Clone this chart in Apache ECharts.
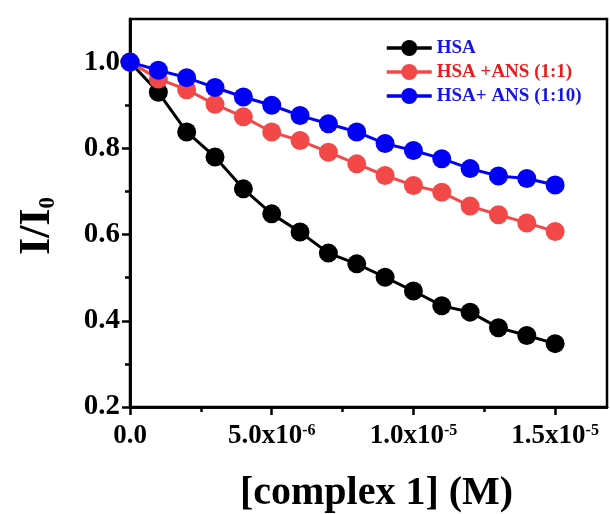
<!DOCTYPE html>
<html><head><meta charset="utf-8">
<script src="https://cdn.jsdelivr.net/npm/echarts@6/dist/echarts.min.js"></script>
<style>html,body{margin:0;padding:0;background:#fff}#c{width:610px;height:514px}</style>
</head><body><div id="c"></div>
<script>
// ---- data ----
const concentrations = [0, 1e-6, 2e-6, 3e-6, 4e-6, 5e-6, 6e-6, 7e-6, 8e-6, 9e-6, 1e-5, 1.1e-5, 1.2e-5, 1.3e-5, 1.4e-5, 1.5e-5];
const hsa       = [1.000, 0.930, 0.838, 0.780, 0.706, 0.648, 0.606, 0.557, 0.532, 0.501, 0.469, 0.435, 0.420, 0.384, 0.366, 0.347];
const hsaAns11  = [1.000, 0.961, 0.936, 0.902, 0.873, 0.838, 0.818, 0.791, 0.764, 0.737, 0.714, 0.698, 0.666, 0.646, 0.627, 0.607];
const hsaAns110 = [1.000, 0.981, 0.964, 0.941, 0.919, 0.900, 0.876, 0.857, 0.838, 0.811, 0.795, 0.776, 0.753, 0.736, 0.730, 0.715];
const seriesNames = ['HSA', 'HSA +ANS (1:1)', 'HSA+ ANS (1:10)'];
const xMajorTicks = [0, 5e-6, 1e-5, 1.5e-5];
const xMinorTicks = [2.5e-6, 7.5e-6, 1.25e-5];
const xTickMantissa = ['0.0', '5.0', '1.0', '1.5'];
const xTickExponent = ['', '-6', '-5', '-5'];
const yMajorTicks = [0.2, 0.4, 0.6, 0.8, 1.0];
const yMinorTicks = [0.3, 0.5, 0.7, 0.9];

// ---- chart ----
const FONT = '"Liberation Serif", "Times New Roman", serif';
const colors = ['#000000', '#f24848', '#0000f5'];
const legendTextColors = ['#1414e6', '#e81c1c', '#1414e6'];
const xMin = 0, xMax = 1.683e-5, yMin = 0.2, yMax = 1.1;

function pair(xs, ys) { return xs.map((x, i) => [x, ys[i]]); }

const chart = echarts.init(document.getElementById('c'), null, {renderer: 'canvas'});
const axisLine = {show: true, lineStyle: {color: '#000', width: 2.5}};
chart.setOption({
  animation: false,
  backgroundColor: '#fff',
  grid: {left: 130, top: 19, right: 3, bottom: 107, show: true, borderColor: '#000', borderWidth: 2.5,
         containLabel: false, outerBoundsMode: 'none'},
  legend: {
    left: 380, top: 33, orient: 'vertical', itemWidth: 45, itemHeight: 20, itemGap: 4,
    lineStyle: {width: 3.5},
    data: seriesNames.map((n, i) => ({name: n, textStyle: {color: legendTextColors[i]}})),
    textStyle: {fontFamily: FONT, fontWeight: 'bold', fontSize: 19, lineHeight: 20}
  },
  xAxis: [{
    type: 'value', min: xMin, max: xMax, position: 'bottom',
    axisLine: axisLine, splitLine: {show: false},
    axisTick: {show: true, inside: false, length: 8, lineStyle: {width: 2.5, color: '#000'}, customValues: xMajorTicks},
    axisLabel: {
      customValues: xMajorTicks, margin: 16, color: '#000',
      formatter: function (v) {
        let idx = 0, best = Infinity;
        xMajorTicks.forEach((t, i) => { const d = Math.abs(t - v); if (d < best) { best = d; idx = i; } });
        if (!xTickExponent[idx]) return '{m|' + xTickMantissa[idx] + '}';
        return '{m|' + xTickMantissa[idx] + 'x10}{s|' + xTickExponent[idx] + '}';
      },
      rich: {
        m: {fontFamily: FONT, fontWeight: 'bold', fontSize: 27, lineHeight: 27, color: '#000'},
        s: {fontFamily: FONT, fontWeight: 'bold', fontSize: 16, lineHeight: 18, verticalAlign: 'top', color: '#000'}
      }
    },
    name: '[complex 1] (M)', nameLocation: 'middle', nameGap: 67,
    nameTextStyle: {fontFamily: FONT, fontWeight: 'bold', fontSize: 40, color: '#000', padding: [0, 0, 0, 16]}
  }, {
    type: 'value', min: xMin, max: xMax, position: 'bottom',
    axisLine: axisLine, splitLine: {show: false}, axisLabel: {show: false},
    axisTick: {show: true, inside: false, length: 5, lineStyle: {width: 2.5, color: '#000'}, customValues: xMinorTicks}
  }],
  yAxis: [{
    type: 'value', min: yMin, max: yMax, position: 'left',
    axisLine: axisLine, splitLine: {show: false},
    axisTick: {show: true, inside: false, length: 8, lineStyle: {width: 2.5, color: '#000'}, customValues: yMajorTicks},
    axisLabel: {
      customValues: yMajorTicks, margin: 10, color: '#000',
      fontFamily: FONT, fontWeight: 'bold', fontSize: 29,
      formatter: v => v.toFixed(1)
    },
    name: '{a|I/I}{b|0}', nameLocation: 'middle', nameGap: 70, nameRotate: 90,
    nameTextStyle: {
      padding: [0, 26, 0, 0],
      rich: {
        a: {fontFamily: FONT, fontWeight: 'bold', fontSize: 44, lineHeight: 44, color: '#000'},
        b: {fontFamily: FONT, fontWeight: 'bold', fontSize: 23, lineHeight: 10, verticalAlign: 'bottom', color: '#000'}
      }
    }
  }, {
    type: 'value', min: yMin, max: yMax, position: 'left',
    axisLine: axisLine, splitLine: {show: false}, axisLabel: {show: false},
    axisTick: {show: true, inside: false, length: 5, lineStyle: {width: 2.5, color: '#000'}, customValues: yMinorTicks}
  }],
  series: [hsa, hsaAns11, hsaAns110].map((ys, i) => ({
    name: seriesNames[i], type: 'line', xAxisIndex: 0, yAxisIndex: 0,
    data: pair(concentrations, ys),
    symbol: 'circle', symbolSize: 19, showSymbol: true, clip: false,
    lineStyle: {color: colors[i], width: 3},
    itemStyle: {color: colors[i], borderWidth: 0},
    z: 2 + i
  }))
});
</script>
</body></html>
